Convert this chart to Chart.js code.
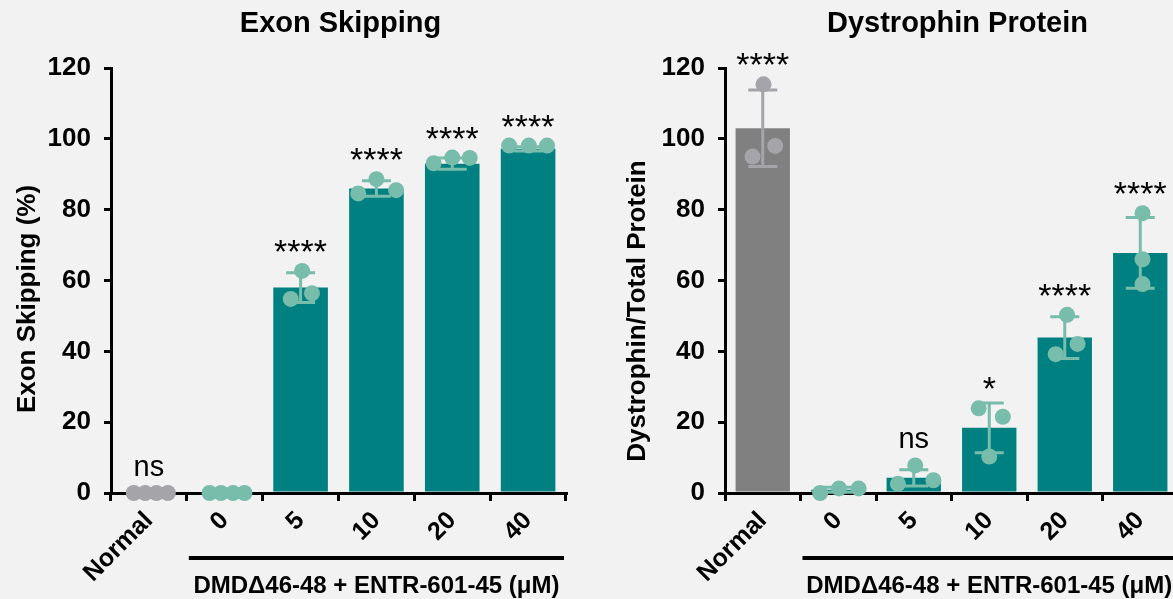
<!DOCTYPE html>
<html>
<head>
<meta charset="utf-8">
<script src="https://cdn.jsdelivr.net/npm/chart.js@4.4.1/dist/chart.umd.min.js"></script>
<style>
  html, body { margin: 0; padding: 0; background: #f2f2f2; overflow: hidden; width: 1173px; height: 599px; }
  canvas { position: absolute; top: 0; }
  #exon { left: 0; }
  #dys { left: 600px; }
</style>
</head>
<body>
<canvas id="exon" width="590" height="599"></canvas>
<canvas id="dys" width="600" height="599"></canvas>
<script>
// ---- data ----
const categories = ['Normal', '0', '5', '10', '20', '40'];
const groupLabel = 'DMD\u039446-48 + ENTR-601-45 (\u03bcM)';
const yTicks = [0, 20, 40, 60, 80, 100, 120];

// Exon skipping (%): group means, SD and replicates
const exonMean = [0, 0, 58, 86, 93, 97.2];
const exonSD = [0, 0, 4.2, 2.2, 1.6, 0.6];
const exonPoints = [[0, 0, 0, 0], [0, 0, 0, 0], [62.7, 54.8, 56.4], [88.6, 84.6, 85.5], [93.1, 94.7, 94.6], [98.1, 98.1, 98.1]];
const exonSig = ['ns', '', '****', '****', '****', '****'];

// Dystrophin / total protein: group means, SD and replicates
const dysMean = [103, 0.9, 4.3, 18.4, 43.9, 67.8];
const dysSD = [10.8, 0.7, 2.3, 7.0, 5.9, 10.0];
const dysPoints = [[115.4, 95, 98], [0, 1.3, 1.3], [7.8, 2.6, 3.6], [23.9, 21.5, 10.3], [50.3, 42.1, 39.2], [79, 66, 59]];
const dysSig = ['****', '', 'ns', '*', '****', '****'];

// ---- layout / style ----
// horizontal spread of replicate dots inside a category (fraction of category width)
const exonSpread = [[-0.2, -0.05, 0.1, 0.25], [-0.2, -0.05, 0.11, 0.26], [0.02, -0.13, 0.15], [0, -0.24, 0.26], [-0.245, 0, 0.23], [-0.25, 0.01, 0.25]];
const dysSpread = [[0.01, -0.135, 0.165], [-0.24, 0.01, 0.27], [0.02, -0.21, 0.26], [-0.14, 0.18, 0], [0.03, 0.17, -0.12], [0.03, 0.03, 0.03]];

const FONT = "'Liberation Sans', Arial, Helvetica, sans-serif";
const TEAL = '#008080', GREY = '#808080';
const DOT_TEAL = '#78bcab', DOT_GREY = '#a4a4a9';
const barColors = [GREY, TEAL, TEAL, TEAL, TEAL, TEAL];
const dotColors = [DOT_GREY, DOT_TEAL, DOT_TEAL, DOT_TEAL, DOT_TEAL, DOT_TEAL];
const DOT_R = 8;
const CAP = 14.5;

function figurePlugin(cfg) {
  return {
    id: 'figureExtras',
    afterDatasetDraw(chart, args) {
      if (args.index !== 0) return;
      const { ctx } = chart;
      const x = chart.scales.x, y = chart.scales.y;
      cfg.sd.forEach((sd, i) => {
        if (!sd) return;
        const m = cfg.mean[i];
        const px = x.getPixelForValue(i);
        const yt = y.getPixelForValue(m + sd);
        const yb = y.getPixelForValue(Math.max(m - sd, 0));
        ctx.save();
        ctx.strokeStyle = dotColors[i];
        ctx.lineWidth = 3;
        ctx.beginPath();
        ctx.moveTo(px, yt); ctx.lineTo(px, yb);
        ctx.moveTo(px - CAP, yt); ctx.lineTo(px + CAP, yt);
        ctx.moveTo(px - CAP, yb); ctx.lineTo(px + CAP, yb);
        ctx.stroke();
        ctx.restore();
      });
    },
    afterDraw(chart) {
      const { ctx, chartArea } = chart;
      const x = chart.scales.x, y = chart.scales.y;
      ctx.save();
      ctx.fillStyle = '#000';

      // significance marks above each group
      cfg.sig.forEach((s, i) => {
        if (!s) return;
        const m = cfg.mean[i], sd = cfg.sd[i];
        let top = sd ? y.getPixelForValue(m + sd) - 1.5 : y.getPixelForValue(m);
        cfg.points[i].forEach(v => { top = Math.min(top, y.getPixelForValue(v) - DOT_R); });
        const cy = top - 17;
        ctx.font = (s[0] === '*' ? '34px ' : '29px ') + FONT;
        ctx.textAlign = 'center';
        ctx.textBaseline = 'alphabetic';
        const mt = ctx.measureText(s);
        ctx.fillText(s, x.getPixelForValue(i), cy + (mt.actualBoundingBoxAscent - mt.actualBoundingBoxDescent) / 2);
      });

      // chart title
      ctx.font = 'bold 29px ' + FONT;
      ctx.textAlign = 'center';
      ctx.fillText(cfg.title, (chartArea.left + chartArea.right) / 2 + cfg.titleShift, 32);

      // y axis title
      ctx.save();
      ctx.translate(cfg.yTitleX, cfg.yTitleY);
      ctx.rotate(-Math.PI / 2);
      ctx.font = 'bold 26px ' + FONT;
      ctx.textAlign = 'center';
      ctx.fillText(cfg.yTitle, 0, 0);
      ctx.restore();

      // treatment group bracket under the dose labels
      const gx0 = x.getPixelForValue(0.5) + 2;
      const gx1 = chartArea.right - 2;
      ctx.strokeStyle = '#000';
      ctx.lineWidth = 4;
      ctx.beginPath();
      ctx.moveTo(gx0, chartArea.bottom + 65);
      ctx.lineTo(gx1, chartArea.bottom + 65);
      ctx.stroke();
      ctx.font = 'bold 24px ' + FONT;
      ctx.textAlign = 'center';
      ctx.fillText(groupLabel, (gx0 + gx1) / 2, chartArea.bottom + 100);
      ctx.restore();
    }
  };
}

function makeChart(id, cfg) {
  const scatter = [];
  const scatterColors = [];
  cfg.points.forEach((vals, i) => {
    vals.forEach((v, k) => {
      scatter.push({ x: i + cfg.spread[i][k], y: v });
      scatterColors.push(dotColors[i]);
    });
  });

  return new Chart(document.getElementById(id), {
    type: 'bar',
    data: {
      labels: categories,
      datasets: [
        {
          data: cfg.mean,
          backgroundColor: barColors,
          grouped: false,
          barPercentage: 0.72,
          categoryPercentage: 1,
          order: 2
        },
        {
          type: 'scatter',
          xAxisID: 'xd',
          data: scatter,
          clip: false,
          pointRadius: DOT_R,
          pointHoverRadius: DOT_R,
          pointBorderWidth: 0,
          pointBackgroundColor: scatterColors,
          showLine: false,
          order: 1
        }
      ]
    },
    options: {
      responsive: false,
      animation: false,
      events: [],
      layout: { padding: { left: 0, right: cfg.padRight, top: 68, bottom: 0 } },
      plugins: { legend: { display: false }, tooltip: { enabled: false }, title: { display: false } },
      scales: {
        x: {
          type: 'category',
          offset: true,
          grid: { offset: true, drawOnChartArea: false, drawTicks: true, tickLength: 8, tickWidth: 3, tickColor: '#000', color: '#000', lineWidth: 3 },
          border: { display: true, width: 3, color: '#000' },
          ticks: { font: { family: FONT, size: 25, weight: 'bold' }, color: '#000', minRotation: 45, maxRotation: 45, padding: 5, autoSkip: false },
          afterFit: s => { s.height = 106; }
        },
        // same span as the category axis, used to place the replicate dots
        xd: { type: 'linear', offset: false, bounds: 'data', min: -0.5, max: categories.length - 0.5, display: false },
        y: {
          min: yTicks[0],
          max: yTicks[yTicks.length - 1],
          afterBuildTicks: s => { s.ticks = yTicks.map(v => ({ value: v })); },
          grid: { drawOnChartArea: false, drawTicks: true, tickLength: 7, tickWidth: 3, tickColor: '#000', color: '#000', lineWidth: 3 },
          border: { display: true, width: 3, color: '#000' },
          ticks: { font: { family: FONT, size: 26, weight: 'bold' }, color: '#000', padding: 13 },
          afterFit: s => { s.width = cfg.yWidth; }
        }
      }
    },
    plugins: [figurePlugin(cfg)]
  });
}

makeChart('exon', {
  mean: exonMean, sd: exonSD, points: exonPoints, spread: exonSpread, sig: exonSig,
  title: 'Exon Skipping', titleShift: 2, yTitle: 'Exon Skipping (%)', yTitleX: 35, yTitleY: 299,
  yWidth: 111, padRight: 24
});

makeChart('dys', {
  mean: dysMean, sd: dysSD, points: dysPoints, spread: dysSpread, sig: dysSig,
  title: 'Dystrophin Protein', titleShift: 6, yTitle: 'Dystrophin/Total Protein', yTitleX: 45, yTitleY: 311,
  yWidth: 125, padRight: 22
});
</script>
</body>
</html>
